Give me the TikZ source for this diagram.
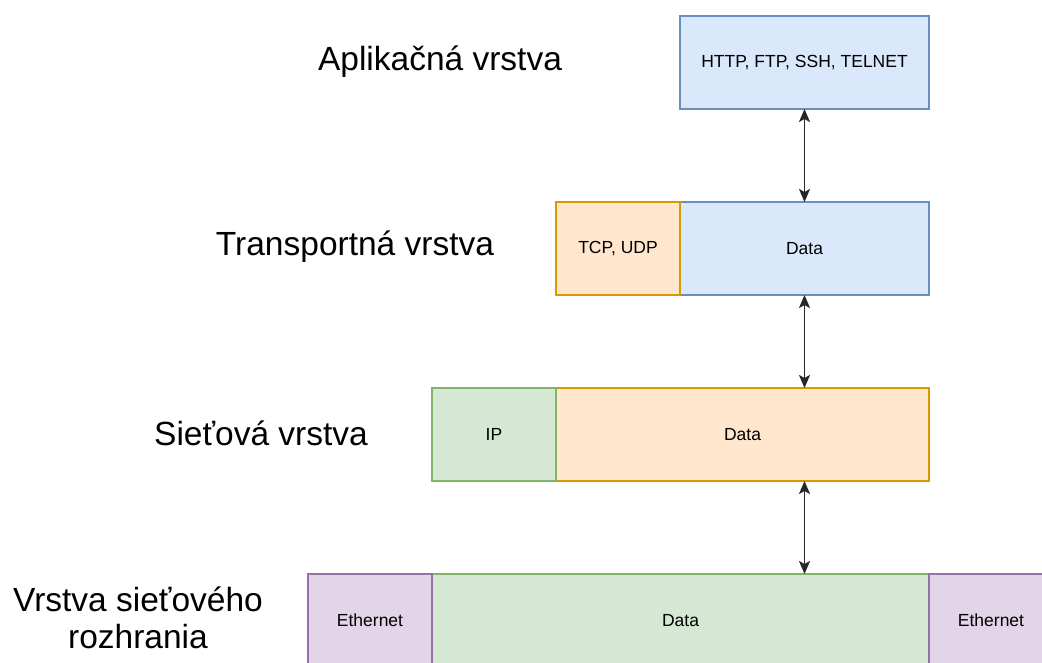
\documentclass[tikz,border=0pt]{standalone}
\usepackage{fontspec}
\setmainfont{Liberation Sans}
\usepackage{tikz}
\usetikzlibrary{positioning,arrows.meta}
\definecolor{bluefill}{HTML}{DAE8FC}
\definecolor{bluedraw}{HTML}{6C8EBF}
\definecolor{orangefill}{HTML}{FFE6CC}
\definecolor{orangedraw}{HTML}{D79B00}
\definecolor{greenfill}{HTML}{D5E8D4}
\definecolor{greendraw}{HTML}{82B366}
\definecolor{purplefill}{HTML}{E1D5E7}
\definecolor{purpledraw}{HTML}{9673A6}
\newcommand{\boxfont}{\fontsize{17.5}{21}\selectfont}
\newcommand{\layerfont}{\fontsize{33.5}{37}\selectfont}

\begin{document}
\begin{tikzpicture}[x=1pt,y=1pt,
    box/.style={rectangle,inner sep=0pt,outer sep=0pt,minimum height=93pt,line width=1.4pt,font=\boxfont},
    bluebox/.style={box,fill=bluefill,draw=bluedraw},
    orangebox/.style={box,fill=orangefill,draw=orangedraw},
    greenbox/.style={box,fill=greenfill,draw=greendraw},
    purplebox/.style={box,fill=purplefill,draw=purpledraw},
    layer/.style={font=\layerfont,align=center,inner sep=0pt},
    arr/.style={{Stealth[length=13pt,width=11pt,inset=3pt]}-{Stealth[length=13pt,width=11pt,inset=3pt]},line width=1.9pt,draw=black!85}]
    \useasboundingbox (0,0) rectangle (1042,-662);
    % aplikacna vrstva
    \node[bluebox,minimum width=249pt] (app) at (804.5,-62.5) {HTTP, FTP, SSH, TELNET};
    % transportna vrstva
    \node[bluebox,minimum width=249pt] (tdata) at (804.5,-248.5) {Data};
    \node[orangebox,minimum width=124pt,left=0pt of tdata] (tcp) {TCP, UDP};
    % sietova vrstva
    \node[orangebox,minimum width=373pt] (ndata) at (742.5,-434.5) {Data};
    \node[greenbox,minimum width=124pt,left=0pt of ndata] (ip) {IP};
    % vrstva sietoveho rozhrania
    \node[greenbox,minimum width=497pt] (ldata) at (680.5,-620.5) {Data};
    \node[purplebox,minimum width=124pt,left=0pt of ldata] (ethl) {Ethernet};
    \node[purplebox,minimum width=124pt,right=0pt of ldata] (ethr) {Ethernet};
    % popisy vrstiev
    \node[layer] (lapp) at (440,-62) {Aplikačná vrstva};
    \node[layer] (ltrans) at (355,-247) {Transportná vrstva};
    \node[layer] (lnet) at (261,-433) {Sieťová vrstva};
    \node[layer] (llink) at (138,-618) {Vrstva sieťového\\rozhrania};
    % sipky
    \draw[arr] (app.south) -- (tdata.north);
    \draw[arr] (tdata.south) -- (tdata.south |- ndata.north);
    \draw[arr] (tdata.south |- ndata.south) -- (tdata.south |- ldata.north);
\end{tikzpicture}
\end{document}
